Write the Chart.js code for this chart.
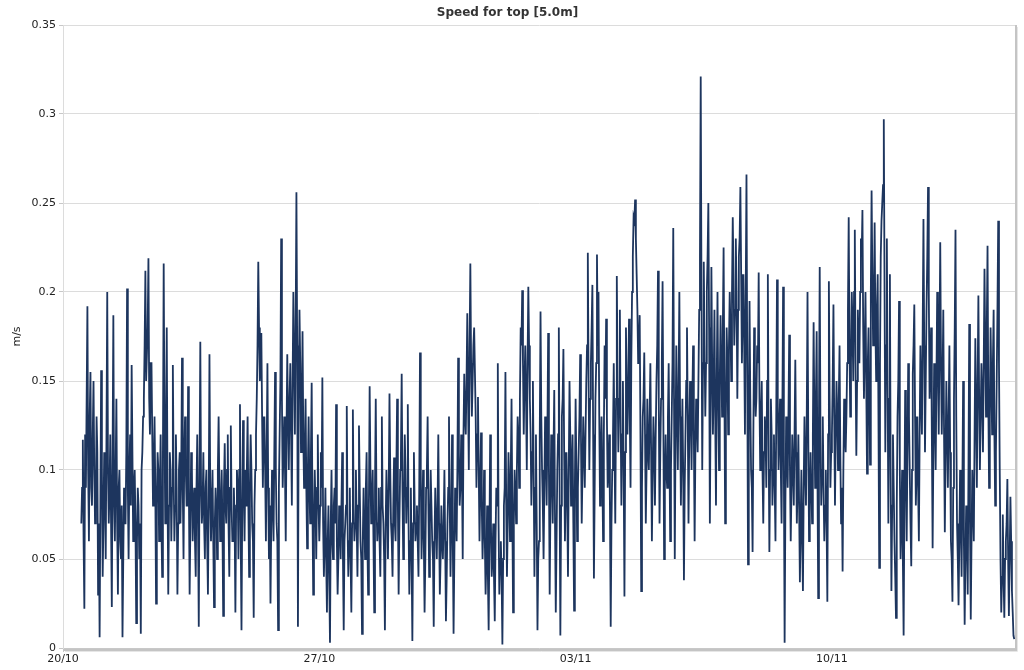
<!DOCTYPE html>
<html>
<head>
<meta charset="utf-8">
<title>Speed for top [5.0m]</title>
<script src="https://cdn.jsdelivr.net/npm/chart.js@4.4.1/dist/chart.umd.min.js"></script>
<style>
  html, body { margin: 0; padding: 0; background: #fff; }
  #wrap { width: 1024px; height: 670px; }
</style>
</head>
<body>
<div id="wrap"><canvas id="speedChart" width="1024" height="670"></canvas></div>
<script>
// DATA
const chartTitle = 'Speed for top [5.0m]';
const yTitle = 'm/s';
const firstDate = '20/10';        // day 0 of the x axis
const firstHour = 12;             // first sample is 20/10 12:00
const lastDay = 26;               // axis ends 15/11 00:00
const tickDays = [0, 7, 14, 21];
const tickLabels = ['20/10', '27/10', '03/11', '10/11'];
const yTicks = [0, 0.05, 0.1, 0.15, 0.2, 0.25, 0.3, 0.35];

// speed at hh:00, one row per day
const speedOnHour = [
  0.07, 0.117, 0.022, 0.09, 0.192, 0.06, 0.155, 0.08, 0.15, 0.07, 0.13, 0.03,
  0.006, 0.156, 0.04, 0.11, 0.05, 0.2, 0.07, 0.12, 0.023, 0.187, 0.06, 0.14, 0.03, 0.1, 0.05, 0.006, 0.09, 0.07, 0.202, 0.05, 0.12, 0.159, 0.06, 0.1,
  0.014, 0.09, 0.05, 0.008, 0.11, 0.14, 0.212, 0.15, 0.219, 0.12, 0.16, 0.08, 0.13, 0.025, 0.11, 0.06, 0.12, 0.04, 0.216, 0.07, 0.18, 0.03, 0.11, 0.06,
  0.159, 0.06, 0.12, 0.03, 0.1, 0.07, 0.163, 0.05, 0.13, 0.08, 0.147, 0.03, 0.11, 0.06, 0.09, 0.04, 0.12, 0.012, 0.172, 0.07, 0.11, 0.05, 0.1, 0.03,
  0.165, 0.06, 0.1, 0.023, 0.09, 0.05, 0.13, 0.06, 0.1, 0.018, 0.115, 0.07, 0.12, 0.04, 0.125, 0.06, 0.09, 0.02, 0.1, 0.05, 0.137, 0.01, 0.128, 0.06,
  0.08, 0.13, 0.04, 0.12, 0.07, 0.017, 0.1, 0.14, 0.217, 0.15, 0.177, 0.09, 0.13, 0.06, 0.16, 0.05, 0.025, 0.1, 0.06, 0.155, 0.07, 0.01, 0.12, 0.23,
  0.09, 0.13, 0.06, 0.165, 0.1, 0.16, 0.08, 0.2, 0.12, 0.256, 0.012, 0.19, 0.11, 0.178, 0.09, 0.14, 0.056, 0.13, 0.07, 0.149, 0.03, 0.1, 0.05, 0.12,
  0.06, 0.11, 0.152, 0.04, 0.09, 0.02, 0.08, 0.003, 0.1, 0.05, 0.09, 0.137, 0.03, 0.08, 0.05, 0.11, 0.01, 0.07, 0.136, 0.04, 0.09, 0.02, 0.134, 0.06,
  0.1, 0.04, 0.125, 0.06, 0.008, 0.09, 0.05, 0.11, 0.03, 0.147, 0.07, 0.1, 0.02, 0.14, 0.06, 0.09, 0.04, 0.13, 0.07, 0.01, 0.1, 0.05, 0.143, 0.07,
  0.04, 0.107, 0.06, 0.14, 0.03, 0.1, 0.154, 0.05, 0.12, 0.07, 0.137, 0.03, 0.09, 0.004, 0.11, 0.06, 0.08, 0.04, 0.166, 0.05, 0.1, 0.02, 0.09, 0.13,
  0.04, 0.1, 0.06, 0.012, 0.09, 0.05, 0.12, 0.03, 0.08, 0.05, 0.1, 0.015, 0.07, 0.13, 0.04, 0.12, 0.008, 0.09, 0.06, 0.163, 0.08, 0.12, 0.05, 0.154,
  0.12, 0.188, 0.1, 0.216, 0.13, 0.17, 0.18, 0.09, 0.141, 0.06, 0.121, 0.05, 0.1, 0.03, 0.08, 0.01, 0.12, 0.04, 0.07, 0.015, 0.09, 0.16, 0.03, 0.06,
  0.002, 0.08, 0.155, 0.04, 0.11, 0.06, 0.14, 0.02, 0.1, 0.07, 0.13, 0.09, 0.18, 0.201, 0.12, 0.17, 0.1, 0.203, 0.14, 0.08, 0.15, 0.04, 0.12, 0.01,
  0.06, 0.189, 0.1, 0.05, 0.13, 0.08, 0.177, 0.03, 0.12, 0.07, 0.145, 0.02, 0.1, 0.18, 0.007, 0.13, 0.168, 0.06, 0.11, 0.04, 0.15, 0.08, 0.12, 0.021,
  0.14, 0.06, 0.11, 0.165, 0.07, 0.13, 0.09, 0.15, 0.222, 0.1, 0.16, 0.204, 0.039, 0.14, 0.221, 0.2, 0.08, 0.13, 0.06, 0.17, 0.185, 0.09, 0.12, 0.012,
  0.1, 0.16, 0.07, 0.209, 0.11, 0.19, 0.08, 0.15, 0.029, 0.18, 0.12, 0.185, 0.09, 0.2, 0.242, 0.252, 0.21, 0.16, 0.187, 0.032, 0.13, 0.166, 0.07, 0.14,
  0.1, 0.16, 0.06, 0.13, 0.08, 0.15, 0.212, 0.07, 0.14, 0.206, 0.05, 0.12, 0.09, 0.16, 0.06, 0.13, 0.236, 0.05, 0.17, 0.1, 0.2, 0.08, 0.14, 0.038,
  0.12, 0.18, 0.07, 0.15, 0.1, 0.17, 0.06, 0.14, 0.11, 0.19, 0.321, 0.1, 0.217, 0.13, 0.2, 0.25, 0.07, 0.214, 0.12, 0.19, 0.08, 0.2, 0.1, 0.187,
  0.13, 0.225, 0.07, 0.18, 0.12, 0.2, 0.15, 0.242, 0.17, 0.23, 0.14, 0.22, 0.259, 0.16, 0.21, 0.12, 0.266, 0.047, 0.195, 0.1, 0.054, 0.18, 0.13, 0.17,
  0.211, 0.1, 0.15, 0.07, 0.13, 0.09, 0.21, 0.054, 0.14, 0.08, 0.12, 0.06, 0.207, 0.1, 0.14, 0.07, 0.203, 0.003, 0.13, 0.09, 0.176, 0.06, 0.12, 0.08,
  0.162, 0.07, 0.12, 0.037, 0.1, 0.032, 0.13, 0.08, 0.2, 0.06, 0.11, 0.07, 0.183, 0.09, 0.178, 0.028, 0.214, 0.08, 0.13, 0.06, 0.1, 0.026, 0.206, 0.09,
  0.12, 0.193, 0.08, 0.15, 0.1, 0.17, 0.07, 0.043, 0.14, 0.11, 0.16, 0.242, 0.13, 0.2, 0.15, 0.235, 0.108, 0.19, 0.16, 0.23, 0.246, 0.14, 0.2, 0.098,
  0.18, 0.103, 0.257, 0.17, 0.239, 0.15, 0.21, 0.045, 0.22, 0.25, 0.297, 0.11, 0.23, 0.07, 0.21, 0.032, 0.12, 0.06, 0.017, 0.13, 0.195, 0.05, 0.1, 0.007,
  0.145, 0.06, 0.16, 0.1, 0.046, 0.154, 0.193, 0.08, 0.13, 0.06, 0.17, 0.12, 0.241, 0.11, 0.19, 0.259, 0.14, 0.18, 0.056, 0.16, 0.1, 0.2, 0.12, 0.228,
  0.12, 0.19, 0.065, 0.15, 0.09, 0.17, 0.06, 0.026, 0.14, 0.235, 0.07, 0.024, 0.1, 0.04, 0.15, 0.013, 0.08, 0.03, 0.182, 0.016, 0.1, 0.06, 0.174, 0.09,
  0.198, 0.1, 0.16, 0.11, 0.213, 0.13, 0.226, 0.09, 0.18, 0.12, 0.19, 0.08, 0.15, 0.24, 0.1, 0.02, 0.075, 0.017, 0.06, 0.095, 0.018, 0.085, 0.032, 0.007
];

// speed at hh:30, one row per day
const speedHalfHour = [
  0.09, 0.06, 0.12, 0.14, 0.1, 0.13, 0.09, 0.12, 0.1, 0.08, 0.11, 0.07,
  0.08, 0.1, 0.07, 0.09, 0.12, 0.1, 0.09, 0.07, 0.11, 0.08, 0.1, 0.07, 0.09, 0.06, 0.08, 0.05, 0.07, 0.11, 0.09, 0.1, 0.08, 0.11, 0.09, 0.07,
  0.06, 0.08, 0.07, 0.1, 0.13, 0.17, 0.15, 0.18, 0.14, 0.16, 0.12, 0.1, 0.09, 0.08, 0.1, 0.09, 0.07, 0.11, 0.13, 0.12, 0.09, 0.08, 0.1, 0.09,
  0.1, 0.08, 0.09, 0.07, 0.11, 0.1, 0.09, 0.11, 0.1, 0.08, 0.09, 0.07, 0.1, 0.08, 0.06, 0.09, 0.07, 0.1, 0.09, 0.08, 0.07, 0.09, 0.06, 0.08,
  0.09, 0.08, 0.06, 0.07, 0.08, 0.1, 0.09, 0.08, 0.07, 0.09, 0.08, 0.1, 0.07, 0.09, 0.08, 0.06, 0.07, 0.08, 0.09, 0.1, 0.06, 0.08, 0.09, 0.1,
  0.1, 0.08, 0.09, 0.1, 0.06, 0.08, 0.12, 0.17, 0.18, 0.16, 0.13, 0.12, 0.1, 0.11, 0.09, 0.08, 0.07, 0.08, 0.11, 0.1, 0.06, 0.09, 0.15, 0.14,
  0.11, 0.1, 0.12, 0.13, 0.14, 0.12, 0.15, 0.16, 0.18, 0.17, 0.14, 0.16, 0.13, 0.12, 0.11, 0.09, 0.1, 0.09, 0.11, 0.08, 0.07, 0.08, 0.09, 0.08,
  0.08, 0.09, 0.07, 0.06, 0.05, 0.06, 0.04, 0.07, 0.06, 0.08, 0.07, 0.06, 0.05, 0.07, 0.08, 0.05, 0.06, 0.08, 0.07, 0.06, 0.05, 0.07, 0.08, 0.07,
  0.07, 0.08, 0.09, 0.05, 0.06, 0.07, 0.09, 0.06, 0.08, 0.1, 0.08, 0.06, 0.09, 0.08, 0.07, 0.06, 0.09, 0.08, 0.05, 0.07, 0.08, 0.09, 0.1, 0.06,
  0.08, 0.07, 0.1, 0.08, 0.07, 0.11, 0.09, 0.08, 0.1, 0.09, 0.07, 0.06, 0.05, 0.07, 0.08, 0.07, 0.06, 0.09, 0.1, 0.07, 0.06, 0.05, 0.1, 0.08,
  0.07, 0.08, 0.05, 0.06, 0.07, 0.08, 0.07, 0.05, 0.06, 0.07, 0.06, 0.04, 0.09, 0.08, 0.07, 0.06, 0.05, 0.08, 0.1, 0.11, 0.09, 0.1, 0.12, 0.13,
  0.15, 0.14, 0.17, 0.16, 0.15, 0.18, 0.13, 0.12, 0.1, 0.09, 0.08, 0.07, 0.06, 0.05, 0.04, 0.06, 0.07, 0.05, 0.04, 0.06, 0.08, 0.07, 0.05, 0.04,
  0.05, 0.09, 0.08, 0.07, 0.09, 0.1, 0.08, 0.07, 0.09, 0.1, 0.12, 0.14, 0.17, 0.16, 0.15, 0.14, 0.16, 0.17, 0.12, 0.11, 0.1, 0.09, 0.07, 0.05,
  0.12, 0.13, 0.08, 0.09, 0.11, 0.12, 0.1, 0.08, 0.1, 0.11, 0.07, 0.06, 0.12, 0.09, 0.08, 0.14, 0.11, 0.09, 0.08, 0.1, 0.12, 0.1, 0.07, 0.09,
  0.1, 0.09, 0.13, 0.12, 0.1, 0.11, 0.12, 0.17, 0.15, 0.14, 0.18, 0.12, 0.09, 0.16, 0.17, 0.13, 0.11, 0.1, 0.12, 0.14, 0.13, 0.1, 0.08, 0.07,
  0.12, 0.11, 0.14, 0.15, 0.14, 0.13, 0.12, 0.1, 0.11, 0.14, 0.15, 0.13, 0.16, 0.22, 0.24, 0.23, 0.19, 0.17, 0.12, 0.09, 0.14, 0.12, 0.1, 0.11,
  0.13, 0.11, 0.1, 0.11, 0.12, 0.17, 0.14, 0.11, 0.16, 0.13, 0.09, 0.1, 0.13, 0.11, 0.1, 0.16, 0.14, 0.12, 0.13, 0.15, 0.13, 0.11, 0.1, 0.09,
  0.15, 0.13, 0.12, 0.13, 0.14, 0.12, 0.11, 0.13, 0.15, 0.22, 0.2, 0.16, 0.17, 0.16, 0.22, 0.18, 0.14, 0.16, 0.15, 0.13, 0.15, 0.14, 0.15, 0.16,
  0.18, 0.15, 0.13, 0.16, 0.17, 0.18, 0.2, 0.21, 0.19, 0.2, 0.19, 0.23, 0.21, 0.19, 0.17, 0.2, 0.16, 0.12, 0.14, 0.09, 0.12, 0.15, 0.14, 0.16,
  0.14, 0.13, 0.1, 0.11, 0.12, 0.15, 0.12, 0.1, 0.12, 0.1, 0.09, 0.13, 0.14, 0.12, 0.1, 0.13, 0.1, 0.08, 0.11, 0.13, 0.1, 0.09, 0.1, 0.12,
  0.11, 0.09, 0.08, 0.07, 0.06, 0.09, 0.1, 0.13, 0.12, 0.08, 0.09, 0.12, 0.13, 0.14, 0.1, 0.13, 0.12, 0.1, 0.09, 0.08, 0.07, 0.12, 0.14, 0.11,
  0.15, 0.13, 0.12, 0.13, 0.14, 0.11, 0.09, 0.1, 0.12, 0.13, 0.19, 0.17, 0.16, 0.18, 0.2, 0.16, 0.15, 0.17, 0.2, 0.22, 0.18, 0.17, 0.15, 0.16,
  0.14, 0.2, 0.21, 0.19, 0.18, 0.19, 0.13, 0.16, 0.24, 0.26, 0.2, 0.17, 0.15, 0.14, 0.1, 0.08, 0.09, 0.04, 0.08, 0.15, 0.1, 0.07, 0.05, 0.08,
  0.1, 0.11, 0.13, 0.07, 0.1, 0.17, 0.13, 0.1, 0.09, 0.12, 0.14, 0.18, 0.17, 0.15, 0.22, 0.2, 0.16, 0.12, 0.11, 0.13, 0.15, 0.16, 0.17, 0.16,
  0.15, 0.12, 0.11, 0.12, 0.13, 0.11, 0.05, 0.09, 0.18, 0.13, 0.05, 0.06, 0.07, 0.09, 0.06, 0.05, 0.06, 0.1, 0.07, 0.06, 0.08, 0.12, 0.13, 0.15,
  0.14, 0.13, 0.14, 0.16, 0.17, 0.18, 0.14, 0.13, 0.15, 0.16, 0.12, 0.11, 0.19, 0.16, 0.05, 0.04, 0.04, 0.05, 0.07, 0.05, 0.05, 0.06, 0.02, 0.005
];

// points as {x: days since 20/10, y: speed}, hh:00 and hh:30 in time order
const points = [];
speedOnHour.forEach((v, i) => {
  points.push({ x: (firstHour + i) / 24, y: v });
  if (speedHalfHour[i] !== undefined) {
    points.push({ x: (firstHour + i + 0.5) / 24, y: speedHalfHour[i] });
  }
});

const fontFamily = '"DejaVu Sans", Verdana, sans-serif';

// border + shadow on the right and bottom of the plot
const frameShadow = {
  id: 'frameShadow',
  afterDraw(chart) {
    const { ctx, chartArea } = chart;
    ctx.save();
    ctx.strokeStyle = '#c4c4c4';
    ctx.lineWidth = 2;
    ctx.beginPath();
    ctx.moveTo(chartArea.right + 1, chartArea.top);
    ctx.lineTo(chartArea.right + 1, chartArea.bottom + 2);
    ctx.lineTo(chartArea.left, chartArea.bottom + 2);
    ctx.stroke();
    ctx.strokeStyle = '#e6e6e6';
    ctx.lineWidth = 1;
    ctx.beginPath();
    ctx.moveTo(chartArea.right + 2.5, chartArea.top + 2);
    ctx.lineTo(chartArea.right + 2.5, chartArea.bottom + 3.5);
    ctx.lineTo(chartArea.left + 2, chartArea.bottom + 3.5);
    ctx.stroke();
    ctx.restore();
  }
};

const ctx = document.getElementById('speedChart').getContext('2d');
const speedChart = new Chart(ctx, {
  type: 'line',
  data: {
    datasets: [{
      label: chartTitle,
      data: points,
      borderColor: '#1d355e',
      borderWidth: 1.8,
      borderJoinStyle: 'miter',
      pointRadius: 0,
      tension: 0,
      fill: false
    }]
  },
  options: {
    responsive: false,
    animation: false,
    layout: { padding: { left: 0, right: 9, top: 0, bottom: 0 } },
    plugins: {
      legend: { display: false },
      tooltip: { enabled: false },
      title: {
        display: true,
        text: chartTitle,
        color: '#333',
        font: { family: fontFamily, size: 12, weight: 'bold' },
        padding: { top: 6, bottom: 4.6 }
      }
    },
    scales: {
      x: {
        type: 'linear',
        min: 0,
        max: lastDay,
        afterBuildTicks: scale => { scale.ticks = tickDays.map(d => ({ value: d })); },
        afterFit: scale => { scale.height = 22; },
        ticks: {
          autoSkip: false,
          maxRotation: 0,
          padding: 1,
          color: '#222',
          font: { family: fontFamily, size: 11 },
          callback: v => tickLabels[tickDays.indexOf(v)] || ''
        },
        grid: { drawOnChartArea: false, drawTicks: true, tickLength: 4, color: '#c8c8c8' },
        border: { color: '#c8c8c8', width: 1 }
      },
      y: {
        min: 0,
        max: 0.35,
        afterBuildTicks: scale => { scale.ticks = yTicks.map(v => ({ value: v })); },
        afterFit: scale => { scale.width = 63; },
        ticks: {
          padding: 3,
          color: '#222',
          font: { family: fontFamily, size: 11 },
          callback: v => String(+v.toFixed(2))
        },
        title: {
          display: true,
          text: yTitle,
          color: '#222',
          font: { family: fontFamily, size: 11 },
          padding: { top: 11, bottom: 0 }
        },
        grid: { color: '#dcdcdc', tickLength: 4, tickColor: '#c8c8c8' },
        border: { color: '#dcdcdc', width: 1 }
      }
    }
  },
  plugins: [frameShadow]
});
</script>
</body>
</html>
